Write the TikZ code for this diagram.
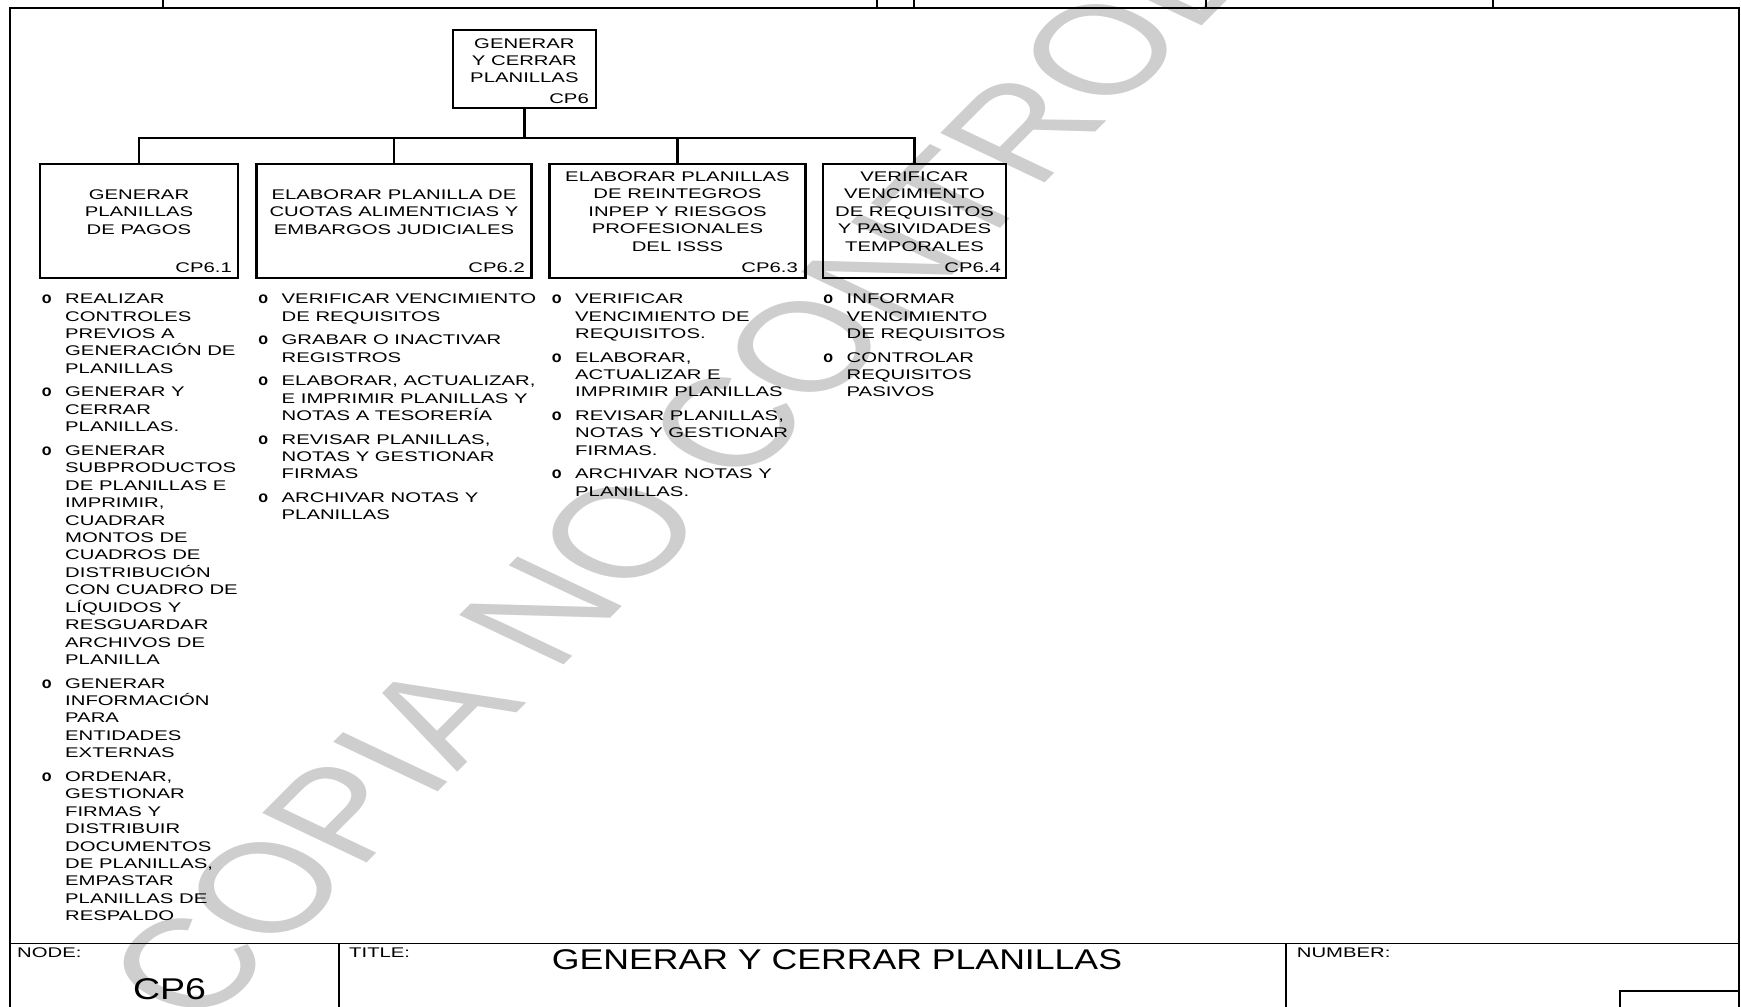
\documentclass[tikz,border=0pt]{standalone}
\usepackage{fontspec}
\setmainfont{Liberation Sans}[FakeStretch=1.45]
\newfontfamily\bulf{Liberation Sans Bold}
\newfontfamily\wmfont{Liberation Sans}
\newfontfamily\bigfont{Liberation Sans}[FakeStretch=1.25]
\definecolor{wmgray}{RGB}{206,206,206}
\newcommand\bi{\par\noindent\llap{\makebox[23.4pt][l]{\bulf\fontsize{16pt}{17.43pt}\selectfont o}}}
\begin{document}
\begin{tikzpicture}[x=1pt,y=-1pt,
  frame/.style={line width=1.5pt},
  pbox/.style={draw, line width=2.8pt, inner sep=0pt},
  conn/.style={line width=2.3pt},
  txt/.style={inner sep=0pt, font=\fontsize{14pt}{17.43pt}\selectfont},
  lst/.style={txt, anchor=base west},
  cpl/.style={txt, anchor=base east},
  big/.style={inner sep=0pt, font=\bigfont\fontsize{28.5pt}{32pt}\selectfont}]
\useasboundingbox (0,0) rectangle (1741,1007);

% watermark
\begin{scope}
\clip (0,0) rectangle (1741,1007);
\begin{scope}[shift={(150,1004)}, xscale=1.45, rotate=55.5]
\node[transform shape, anchor=west, inner sep=0pt, text=wmgray,
      font=\wmfont\fontsize{127pt}{137pt}\selectfont] (wm) at (0,0) {COPIA NO CONTROLADA};
\end{scope}
\end{scope}

% frame
\draw[frame] (10,1007) -- (10,8) -- (1739,8) -- (1739,1007);
\foreach \tx in {163,877,914,1206,1493} \draw[frame] (\tx,0) -- (\tx,8);
\draw[frame] (10,943.5) -- (1739,943.5);
\draw[frame] (339,943.5) -- (339,1007);
\draw[frame] (1286,943.5) -- (1286,1007);
\draw[frame] (1620,1010) -- (1620,991) -- (1739,991);

% boxes
\node[pbox, minimum width=143pt, minimum height=78pt] (top) at (524.4,69) {};
\node[pbox, minimum width=198pt, minimum height=114pt] (b1) at (139,221) {};
\node[pbox, minimum width=275pt, minimum height=114pt] (b2) at (394,221) {};
\node[pbox, minimum width=255.5pt, minimum height=114pt] (b3) at (677.5,221) {};
\node[pbox, minimum width=183pt, minimum height=114pt] (b4) at (914.5,221) {};

% connectors
\coordinate (busy) at (0,138);
\draw[conn] (top.south) -- (top.south |- busy);
\draw[conn] (b1.north) |- (b4.north |- busy) -- (b4.north);
\draw[conn] (b2.north) -- (b2.north |- busy);
\draw[conn] (b3.north) -- (b3.north |- busy);

% box texts
\node[txt, anchor=base] (t0) at (524.4,48) {\parbox[t]{200pt}{\centering GENERAR\\Y CERRAR\\PLANILLAS}};
\node[cpl] (c0) at (589,103.3) {CP6};
\node[txt, anchor=base] (t1) at (139,199.5) {\parbox[t]{300pt}{\centering GENERAR\\PLANILLAS\\DE PAGOS}};
\node[txt, anchor=base] (t2) at (394,199.5) {\parbox[t]{300pt}{\centering ELABORAR PLANILLA DE\\CUOTAS ALIMENTICIAS Y\\EMBARGOS JUDICIALES}};
\node[txt, anchor=base] (t3) at (677.5,181.5) {\parbox[t]{300pt}{\centering ELABORAR PLANILLAS\\DE REINTEGROS\\INPEP Y RIESGOS\\PROFESIONALES\\DEL ISSS}};
\node[txt, anchor=base] (t4) at (914.5,181.5) {\parbox[t]{300pt}{\centering VERIFICAR\\VENCIMIENTO\\DE REQUISITOS\\Y PASIVIDADES\\TEMPORALES}};
\node[cpl] (c1) at (232,272.5) {CP6.1};
\node[cpl] (c2) at (525,272.5) {CP6.2};
\node[cpl] (c3) at (798,272.5) {CP6.3};
\node[cpl] (c4) at (1001,272.5) {CP6.4};

% lists
\node[lst] (l1) at (65,303.7) {\parbox[t]{260pt}{\setlength{\parskip}{6.1pt}\raggedright
\bi REALIZAR\\CONTROLES\\PREVIOS A\\GENERACIÓN DE\\PLANILLAS
\bi GENERAR Y\\CERRAR\\PLANILLAS.
\bi GENERAR\\SUBPRODUCTOS\\DE PLANILLAS E\\IMPRIMIR,\\CUADRAR\\MONTOS DE\\CUADROS DE\\DISTRIBUCIÓN\\CON CUADRO DE\\LÍQUIDOS Y\\RESGUARDAR\\ARCHIVOS DE\\PLANILLA
\bi GENERAR\\INFORMACIÓN\\PARA\\ENTIDADES\\EXTERNAS
\bi ORDENAR,\\GESTIONAR\\FIRMAS Y\\DISTRIBUIR\\DOCUMENTOS\\DE PLANILLAS,\\EMPASTAR\\PLANILLAS DE\\RESPALDO}};
\node[lst] (l2) at (281.5,303.7) {\parbox[t]{300pt}{\setlength{\parskip}{6.1pt}\raggedright
\bi VERIFICAR VENCIMIENTO\\DE REQUISITOS
\bi GRABAR O INACTIVAR\\REGISTROS
\bi ELABORAR, ACTUALIZAR,\\E IMPRIMIR PLANILLAS Y\\NOTAS A TESORERÍA
\bi REVISAR PLANILLAS,\\NOTAS Y GESTIONAR\\FIRMAS
\bi ARCHIVAR NOTAS Y\\PLANILLAS}};
\node[lst] (l3) at (575,303.7) {\parbox[t]{300pt}{\setlength{\parskip}{6.1pt}\raggedright
\bi VERIFICAR\\VENCIMIENTO DE\\REQUISITOS.
\bi ELABORAR,\\ACTUALIZAR E\\IMPRIMIR PLANILLAS
\bi REVISAR PLANILLAS,\\NOTAS Y GESTIONAR\\FIRMAS.
\bi ARCHIVAR NOTAS Y\\PLANILLAS.}};
\node[lst] (l4) at (846.5,303.7) {\parbox[t]{300pt}{\setlength{\parskip}{6.1pt}\raggedright
\bi INFORMAR\\VENCIMIENTO\\DE REQUISITOS
\bi CONTROLAR\\REQUISITOS\\PASIVOS}};

% title block
\node[txt, anchor=base west] (nodel) at (17,957) {NODE:};
\node[txt, anchor=base west] (titlel) at (349,957) {TITLE:};
\node[txt, anchor=base west] (numl) at (1296.7,957) {NUMBER:};
\node[big, anchor=base] (title) at (837,969) {GENERAR Y CERRAR PLANILLAS};
\node[inner sep=0pt, anchor=base, font=\bigfont\fontsize{30pt}{34pt}\selectfont] (nodeval) at (169.5,999) {CP6};
\end{tikzpicture}
\end{document}
